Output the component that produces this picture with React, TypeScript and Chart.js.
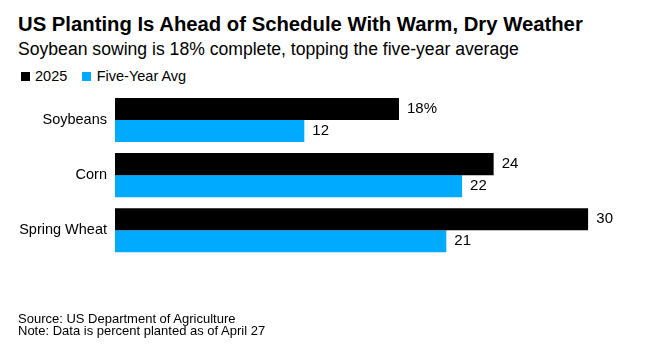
import React, { useEffect, useRef } from "react";
import { Chart, registerables } from "chart.js";

Chart.register(...registerables);

const categories = ["Soybeans", "Corn", "Spring Wheat"];
const values2025 = [18, 24, 30];
const valuesFiveYearAvg = [12, 22, 21];
const seriesNames = ["2025", "Five-Year Avg"];
const seriesColors = ["#000000", "#00aaff"];

const title = "US Planting Is Ahead of Schedule With Warm, Dry Weather";
const subtitle = "Soybean sowing is 18% complete, topping the five-year average";
const footerLines = [
  "Source: US Department of Agriculture",
  "Note: Data is percent planted as of April 27",
];

const FONT = "'Liberation Sans', Arial, Helvetica, sans-serif";

const formatLabel = (v: number, di: number, i: number) =>
  di === 0 && i === 0 ? `${v}%` : `${v}`;

const valueLabelPlugin = {
  id: "valueLabels",
  afterDatasetsDraw(chart: any) {
    const ctx = chart.ctx;
    ctx.save();
    ctx.font = `15px ${FONT}`;
    ctx.fillStyle = "#000";
    ctx.textBaseline = "middle";
    ctx.textAlign = "left";
    chart.data.datasets.forEach((ds: any, di: number) => {
      const meta = chart.getDatasetMeta(di);
      meta.data.forEach((el: any, i: number) => {
        ctx.fillText(formatLabel(ds.data[i], di, i), el.x + 8, el.y);
      });
    });
    ctx.restore();
  },
};

export default function App() {
  const canvasRef = useRef<HTMLCanvasElement | null>(null);

  useEffect(() => {
    if (!canvasRef.current) return;
    const chart = new Chart(canvasRef.current, {
      type: "bar",
      data: {
        labels: categories,
        datasets: [
          {
            label: seriesNames[0],
            data: values2025,
            backgroundColor: seriesColors[0],
            barPercentage: 1,
            categoryPercentage: 0.8,
          },
          {
            label: seriesNames[1],
            data: valuesFiveYearAvg,
            backgroundColor: seriesColors[1],
            barPercentage: 1,
            categoryPercentage: 0.8,
          },
        ],
      },
      options: {
        indexAxis: "y",
        animation: false,
        responsive: false,
        devicePixelRatio: 1,
        layout: { padding: { left: 0, top: 92.5, bottom: 94.2, right: 61.7 } },
        plugins: {
          legend: { display: false },
          tooltip: { enabled: false },
          title: { display: false },
        },
        scales: {
          x: {
            display: false,
            min: 0,
            max: 30,
          },
          y: {
            afterFit: (scale: any) => {
              scale.width = 115;
            },
            grid: { display: false, drawTicks: false },
            border: { display: false },
            ticks: {
              padding: 8,
              color: "#000",
              font: { family: FONT, size: 14.5 },
            },
          },
        },
      },
      plugins: [valueLabelPlugin],
    });
    return () => chart.destroy();
  }, []);

  const abs = (extra: React.CSSProperties): React.CSSProperties => ({
    position: "absolute",
    whiteSpace: "nowrap",
    fontFamily: FONT,
    color: "#000",
    margin: 0,
    ...extra,
  });

  return (
    <div
      style={{
        position: "absolute",
        left: 0,
        top: 0,
        width: 650,
        height: 352,
        background: "#fff",
        overflow: "hidden",
      }}
    >
      <div style={abs({ left: 18, top: 13.8, fontSize: 20.3, lineHeight: "20.3px", fontWeight: 700 })}>
        {title}
      </div>
      <div style={abs({ left: 18, top: 41.1, fontSize: 17.6, lineHeight: "17.6px" })}>{subtitle}</div>
      <div style={abs({ left: 21, top: 72, width: 9, height: 9, background: seriesColors[0] })} />
      <div style={abs({ left: 35, top: 68.7, fontSize: 14.5, lineHeight: "14.5px" })}>{seriesNames[0]}</div>
      <div style={abs({ left: 82, top: 72, width: 9, height: 9, background: seriesColors[1] })} />
      <div style={abs({ left: 96.7, top: 68.7, fontSize: 14.5, lineHeight: "14.5px" })}>{seriesNames[1]}</div>
      <canvas
        ref={canvasRef}
        width={650}
        height={352}
        style={{ position: "absolute", left: 0, top: 0, width: 650, height: 352 }}
      />
      {footerLines.map((line, i) => (
        <div key={i} style={abs({ left: 18, top: 312.8 + i * 12, fontSize: 13, lineHeight: "12px" })}>
          {line}
        </div>
      ))}
    </div>
  );
}
